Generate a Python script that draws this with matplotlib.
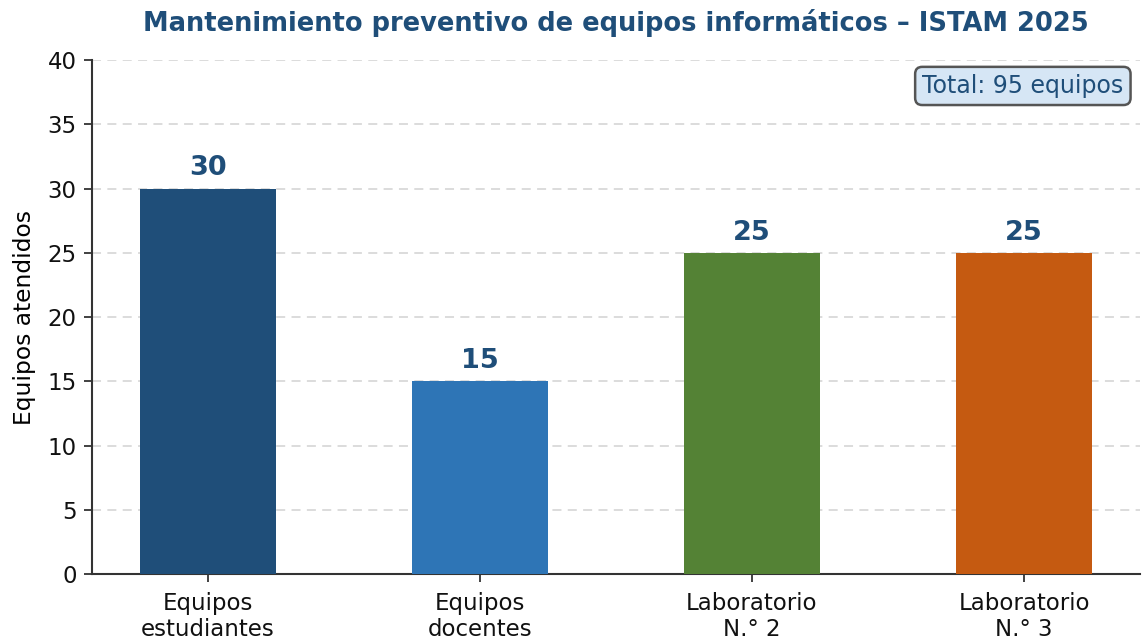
import matplotlib
matplotlib.use("Agg")
import matplotlib.pyplot as plt

categories = ["Equipos\nestudiantes", "Equipos\ndocentes", "Laboratorio\nN.° 2", "Laboratorio\nN.° 3"]
values = [30, 15, 25, 25]
colors = ["#1f4e79", "#2e75b6", "#548235", "#c55a11"]
title = "Mantenimiento preventivo de equipos informáticos – ISTAM 2025"
total_label = "Total: 95 equipos"

fig = plt.figure(figsize=(11.42, 6.39), dpi=100)
ax = fig.add_axes([0.0806, 0.1017, 0.9174, 0.8043])

x = list(range(len(categories)))
bars = ax.bar(x, values, width=0.5, color=colors, zorder=3)
for xi, v in zip(x, values):
    ax.text(xi, v + 0.55, str(v), ha="center", va="bottom", fontsize=19.5,
            fontweight="bold", color="#1f4e79", zorder=4)

ax.set_xticks(x)
ax.set_xticklabels(categories, fontsize=16.5, color="#111111", linespacing=1.15)
ax.set_ylim(0, 40)
ax.set_yticks(range(0, 41, 5))
ax.tick_params(axis="y", labelsize=16.5, labelcolor="#111111")
ax.tick_params(length=6, width=1.3, color="#333333", pad=5)
ax.tick_params(axis="x", pad=7)
ax.set_ylabel("Equipos atendidos", fontsize=16.8, labelpad=8)
ax.set_title(title, fontsize=18.5, fontweight="bold", color="#1f4e79", pad=21)
ax.yaxis.grid(True, linestyle=(0, (5, 3.5)), color="#d5d5d5", alpha=0.9, linewidth=1.3, zorder=0)
ax.set_axisbelow(True)
ax.spines["top"].set_visible(False)
ax.spines["right"].set_visible(False)
for s in ("left", "bottom"):
    ax.spines[s].set_linewidth(1.5)
    ax.spines[s].set_color("#333333")

ax.text(0.9845, 0.973, total_label, transform=ax.transAxes, ha="right", va="top",
        fontsize=17, color="#1f4e79",
        bbox=dict(boxstyle="round,pad=0.3", facecolor="#d6e6f5", edgecolor="#555555", linewidth=1.8))

fig.savefig("out.png", dpi=100)
